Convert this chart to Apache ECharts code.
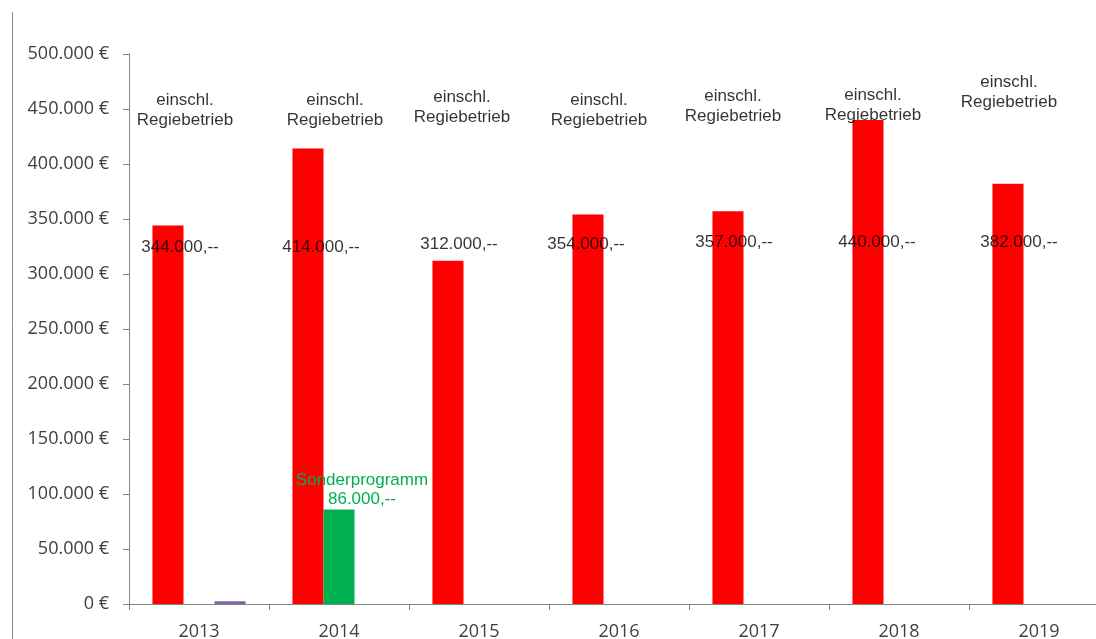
<!DOCTYPE html>
<html>
<head>
<meta charset="utf-8">
<script src="https://cdn.jsdelivr.net/npm/echarts@6/dist/echarts.min.js"></script>
<style>
    html, body { margin: 0; padding: 0; background: #fff; }
    #chart { width: 1096px; height: 639px; }
</style>
</head>
<body>
<div id="chart"></div>
<script>
// data
var years = ['2013', '2014', '2015', '2016', '2017', '2018', '2019'];
var mainValues = [344000, 414000, 312000, 354000, 357000, 440000, 382000];
var specialValues = [null, 86000, null, null, null, null, null];
var otherValues = [2500, null, null, null, null, null, null];
var mainNote = 'einschl.\nRegiebetrieb';
var specialNote = 'Sonderprogramm';

// where the hand placed text boxes sit (pixel nudges from category centre)
var valueNoteShift = [[-19, 1], [-18, 1], [-20, -2], [-33, -2], [-25, -4], [-22, -4], [-20, -4]];
var mainNoteShift = [[-14, 1], [-4, 1], [-17, -2], [-20, 1], [-26, -3], [-26, -4], [-30, -17]];

function fmt(v){
    return String(v).replace(/\B(?=(\d{3})+(?!\d))/g, '.');
}

(function(){
    var chart = echarts.init(document.getElementById('chart'), null, {renderer: 'canvas'});
    var axisFont = {fontFamily: 'Open Sans', fontSize: 18, color: '#404040'};
    var noteFont = {fontFamily: 'Liberation Sans', fontSize: 17, lineHeight: 20, color: '#000'};

    var valueNotes = mainValues.map(function(v, i){
        return {
            value: [i, 325000],
            label: {offset: valueNoteShift[i], formatter: fmt(v) + ',--'}
        };
    });
    var regieNotes = mainValues.map(function(v, i){
        return {
            value: [i, 450000],
            label: {offset: mainNoteShift[i], formatter: mainNote}
        };
    });

    var option = {
        animation: false,
        backgroundColor: '#fff',
        // plot runs a little past the right edge of the window, as in the original
        grid: {left: 129, width: 980, top: 54, bottom: 35, containLabel: false, outerBoundsMode: 'none'},
        xAxis: {
            type: 'category',
            data: years,
            axisLine: {lineStyle: {color: '#868686', width: 1}},
            axisTick: {show: true, length: 6, lineStyle: {color: '#868686'}},
            axisLabel: Object.assign({margin: 19}, axisFont),
            splitLine: {show: false}
        },
        yAxis: {
            type: 'value',
            min: 0,
            max: 500000,
            interval: 50000,
            axisLine: {show: true, lineStyle: {color: '#868686', width: 1}},
            axisTick: {show: true, length: 6, lineStyle: {color: '#868686'}},
            axisLabel: Object.assign({
                margin: 20,
                formatter: function(v){ return fmt(v) + ' €'; }
            }, axisFont),
            splitLine: {show: false}
        },
        graphic: [{
            type: 'line',
            shape: {x1: 12.5, y1: 12, x2: 12.5, y2: 639},
            style: {stroke: '#8c8c8c', lineWidth: 1}
        }],
        series: [
            {
                name: 'Gesamt',
                type: 'bar',
                data: mainValues,
                barGap: '0%',
                barCategoryGap: '33.5%',
                itemStyle: {color: '#ff0000'}
            },
            {
                name: specialNote,
                type: 'bar',
                data: specialValues,
                barGap: '0%',
                barCategoryGap: '33.5%',
                itemStyle: {color: '#00b050'},
                label: {
                    show: true,
                    position: 'top',
                    distance: 1,
                    offset: [23, 0],
                    fontFamily: 'Liberation Sans',
                    fontSize: 17,
                    lineHeight: 19,
                    color: '#00b050',
                    formatter: function(p){ return specialNote + '\n' + fmt(p.value) + ',--'; }
                }
            },
            {
                name: 'Sonstiges',
                type: 'bar',
                data: otherValues,
                barGap: '0%',
                barCategoryGap: '33.5%',
                itemStyle: {color: '#8064a2'}
            },
            {
                name: 'Werte',
                type: 'scatter',
                data: valueNotes,
                symbolSize: 1,
                silent: true,
                itemStyle: {color: 'rgba(0,0,0,0)'},
                label: Object.assign({show: true, position: 'inside'}, noteFont),
                z: 5
            },
            {
                name: 'Hinweis',
                type: 'scatter',
                data: regieNotes,
                symbolSize: 1,
                silent: true,
                itemStyle: {color: 'rgba(0,0,0,0)'},
                label: Object.assign({show: true, position: 'inside', align: 'center'}, noteFont),
                z: 5
            }
        ]
    };
    chart.setOption(option);
})();
</script>
</body>
</html>
